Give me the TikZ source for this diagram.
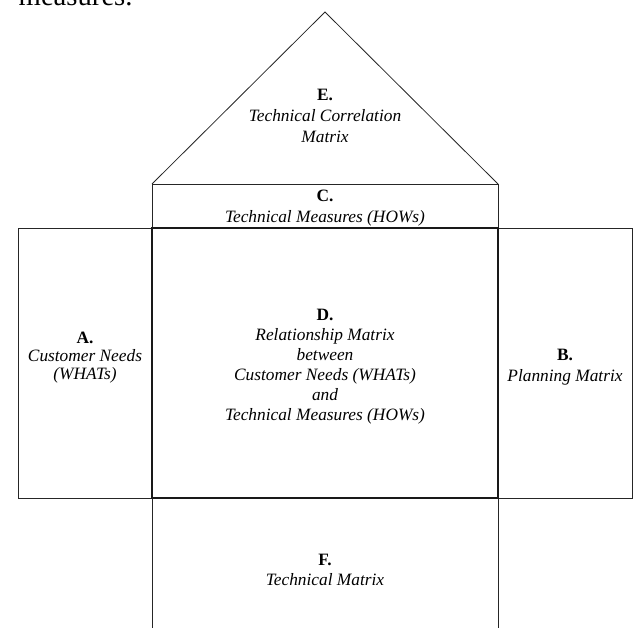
\documentclass[tikz,border=0pt]{standalone}
\usepackage{fontspec}
\setmainfont{Liberation Serif}
\newcommand{\roomtag}[1]{\textup{\textbf{#1}}}
\begin{document}
\begin{tikzpicture}[x=0.75pt,y=-0.75pt,
    wall/.style={draw=black!85,line width=0.6pt},
    floor/.style={draw=black!90,line width=1pt},
    room/.style={align=center,font=\fontsize{13}{15.5}\selectfont\itshape}]
  \useasboundingbox (0,0) rectangle (635,628);
  % corners of the house
  \coordinate (apex) at (325,12);
  \coordinate (eaveL) at (152,184);
  \coordinate (eaveR) at (498,184);
  \coordinate (midL) at (152,228);
  \coordinate (midR) at (498,228);
  \coordinate (lowL) at (152,498);
  \coordinate (lowR) at (498,498);
  % roof and ceiling
  \draw[wall] (eaveL) -- (apex) -- (eaveR);
  \draw[wall] (midL) -- (eaveL) -- (eaveR) -- (midR);
  % side rooms
  \draw[wall] (midL) -- (18,228) -- (18,498) -- (lowL);
  \draw[wall] (midR) -- (632,228) -- (632,498) -- (lowR);
  % basement
  \draw[wall] (lowL) -- (152,628);
  \draw[wall] (lowR) -- (498,628);
  % middle room
  \draw[floor] (midL) rectangle (lowR);
  \node[anchor=base west,font=\fontsize{21.5}{26}\selectfont] (cut) at (14,6) {measures.};
  \node[room] (E) at (325,116) {\roomtag{E.}\\Technical Correlation\\Matrix};
  \node[room] (C) at (325,208) {\roomtag{C.}\\Technical Measures (HOWs)};
  \node[room,font=\fontsize{13}{13.5}\selectfont\itshape] (A) at (85,358) {\roomtag{A.}\\Customer Needs\\(WHATs)};
  \node[room] (B) at (565,367) {\roomtag{B.}\\Planning Matrix};
  \node[room,font=\fontsize{13}{15}\selectfont\itshape] (D) at (325,367) {\roomtag{D.}\\Relationship Matrix\\between\\Customer Needs (WHATs)\\and\\Technical Measures (HOWs)};
  \node[room] (F) at (325,570) {\roomtag{F.}\\Technical Matrix};
\end{tikzpicture}
\end{document}
